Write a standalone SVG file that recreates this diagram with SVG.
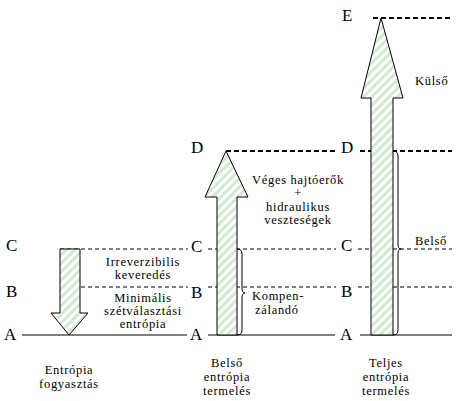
<svg xmlns="http://www.w3.org/2000/svg" width="456" height="401" viewBox="0 0 456 401">
<defs>
<pattern id="hatch" patternUnits="userSpaceOnUse" width="6" height="6" patternTransform="rotate(45)">
<rect x="0" y="0" width="6" height="6" fill="#ffffff"/>
<rect x="0" y="0" width="3" height="6" fill="#d2ead2"/>
</pattern>
</defs>
<style>
text{font-family:Liberation Serif,serif;fill:#000}
.lvl{font-size:17px}
.t{font-size:12.5px;letter-spacing:0.7px;text-anchor:middle}
.tl{font-size:12.5px;letter-spacing:0.7px}
.solid{stroke:#000;stroke-width:1;fill:none}
.thin{stroke:#000;stroke-width:1;stroke-dasharray:4 3;fill:none}
.thick{stroke:#000;stroke-width:2;stroke-dasharray:5 3;fill:none}
.arrow{fill:url(#hatch);stroke:#000;stroke-width:1}
.brace{stroke:#000;stroke-width:1;fill:none}
</style>
<g id="connectors">
<line class="solid" x1="22" y1="335" x2="187" y2="335"/>
<line class="solid" x1="208" y1="335" x2="335" y2="335"/>
<line class="solid" x1="360" y1="335" x2="452" y2="335"/>
<line class="thin" x1="60" y1="249" x2="188" y2="249"/>
<line class="thin" x1="208" y1="249" x2="336" y2="249"/>
<line class="thin" x1="358" y1="249" x2="452" y2="249"/>
<line class="thin" x1="60" y1="287" x2="188" y2="287"/>
<line class="thin" x1="208" y1="287" x2="336" y2="287"/>
<line class="thin" x1="358" y1="287" x2="452" y2="287"/>
<line class="thick" x1="226" y1="151" x2="336" y2="151"/>
<line class="thick" x1="360" y1="151" x2="452" y2="151"/>
<line class="thick" x1="373" y1="18" x2="452" y2="18"/>
</g>
<g id="arrow-consumption">
<polygon class="arrow" points="60,249 80,249 80,313 88,313 69,335 51,313 60,313"/>
</g>
<g id="arrow-internal">
<polygon class="arrow" points="217,335 237,335 237,197 248,197 226,151 205,197 217,197"/>
</g>
<g id="arrow-total">
<polygon class="arrow" points="371,335 393,335 393,98 403,98 381,18 361,98 371,98"/>
</g>
<g id="brace-internal">
<path class="brace" d="M237,249 Q242,249 242,254 L242,288 Q242,293 245,293 Q242,293 242,298 L242,330 Q242,335 237,335"/>
</g>
<g id="brace-total">
<path class="brace" d="M393,151 Q398,151 398,156 L398,244 Q398,249 401,249 Q398,249 398,254 L398,330 Q398,335 393,335"/>
</g>
<g id="levels">
<text class="lvl" x="6" y="251">C</text>
<text class="lvl" x="6" y="297">B</text>
<text class="lvl" x="4" y="340">A</text>
<text class="lvl" x="191" y="153">D</text>
<text class="lvl" x="191" y="252">C</text>
<text class="lvl" x="191" y="298">B</text>
<text class="lvl" x="190" y="340">A</text>
<text class="lvl" x="342" y="21">E</text>
<text class="lvl" x="341" y="153">D</text>
<text class="lvl" x="341" y="251">C</text>
<text class="lvl" x="341" y="297">B</text>
<text class="lvl" x="340" y="340">A</text>
</g>
<g id="labels-left">
<text class="t" x="143" y="266">Irreverzibilis</text>
<text class="t" x="143" y="279">keveredés</text>
<text class="t" x="143" y="302">Minimális</text>
<text class="t" x="143" y="315">szétválasztási</text>
<text class="t" x="143" y="328">entrópia</text>
<text class="t" x="69" y="374">Entrópia</text>
<text class="t" x="69" y="388">fogyasztás</text>
</g>
<g id="labels-middle">
<text class="t" x="298" y="184">Véges hajtóerők</text>
<text class="t" x="298" y="197">+</text>
<text class="t" x="298" y="211">hidraulikus</text>
<text class="t" x="298" y="224">veszteségek</text>
<text class="tl" x="252" y="300">Kompen-</text>
<text class="tl" x="255" y="314">zálandó</text>
<text class="t" x="227" y="367">Belső</text>
<text class="t" x="227" y="381">entrópia</text>
<text class="t" x="227" y="395">termelés</text>
</g>
<g id="labels-right">
<text class="tl" x="415" y="85">Külső</text>
<text class="tl" x="415" y="245">Belső</text>
<text class="t" x="386" y="367">Teljes</text>
<text class="t" x="386" y="381">entrópia</text>
<text class="t" x="386" y="395">termelés</text>
</g>
</svg>
